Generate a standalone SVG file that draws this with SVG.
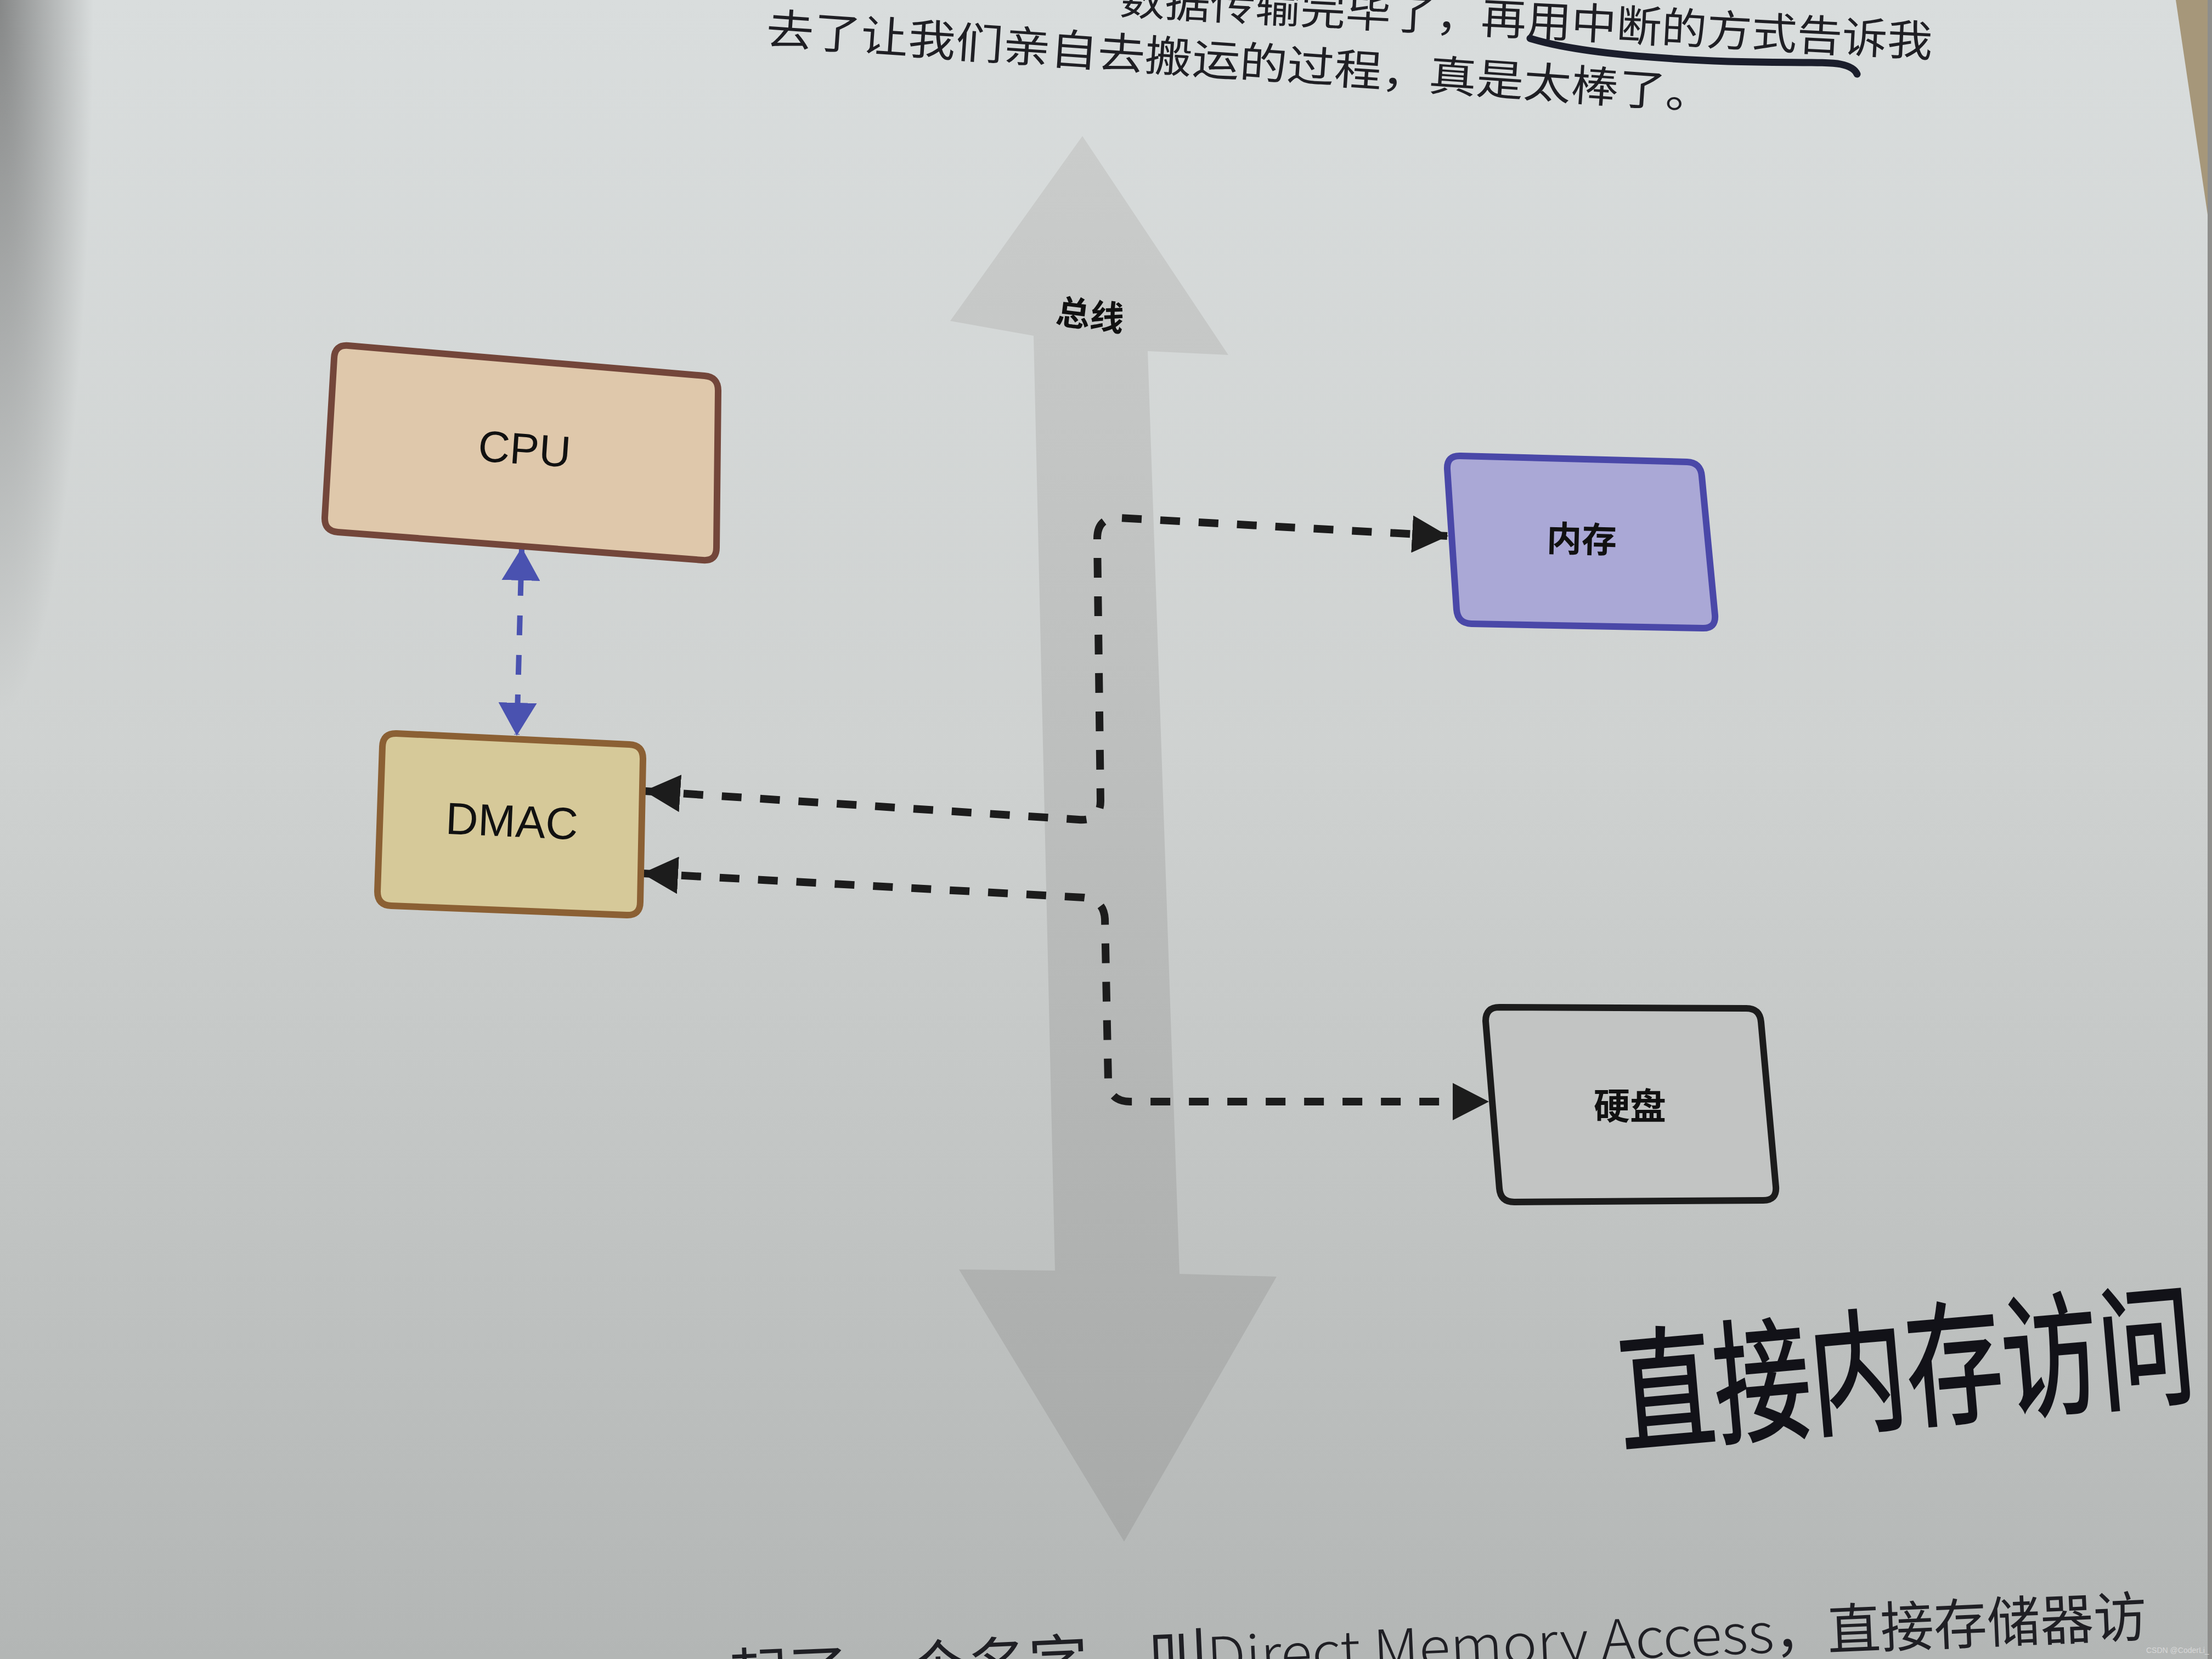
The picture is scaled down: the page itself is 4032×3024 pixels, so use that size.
<svg xmlns="http://www.w3.org/2000/svg" width="4032" height="3024" viewBox="0 0 4032 3024">
  <defs>
    <style>
      .print { font-family: "Noto Sans CJK SC", "Noto Sans", sans-serif; fill: #1f1f24; }
      .label { font-family: "Noto Sans CJK SC", sans-serif; font-weight: 700; fill: #111; text-anchor: middle; }
      .latin { font-family: "Liberation Sans", Arial, sans-serif; fill: #111; text-anchor: middle; }
      .dash { fill: none; stroke: #1c1c1c; stroke-width: 14; stroke-dasharray: 36 34; stroke-linejoin: round; }
      .dashblue { fill: none; stroke: #4a52b0; stroke-width: 10; stroke-dasharray: 36 36; stroke-dashoffset: 22; }
      .box { stroke-width: 12; stroke-linejoin: round; }
    </style>
    <linearGradient id="bg" x1="0" y1="0" x2="0" y2="1">
      <stop offset="0" stop-color="#d9dddd"/>
      <stop offset="0.45" stop-color="#cfd2d1"/>
      <stop offset="1" stop-color="#b3b6b5"/>
    </linearGradient>
    <radialGradient id="corner" cx="0" cy="0" r="1" gradientUnits="userSpaceOnUse" gradientTransform="translate(0 0) scale(170 1300)">
      <stop offset="0" stop-color="#505050" stop-opacity="0.6"/>
      <stop offset="1" stop-color="#505050" stop-opacity="0"/>
    </radialGradient>
    <linearGradient id="busfill" x1="0" y1="0" x2="0" y2="1">
      <stop offset="0" stop-color="#cacccb"/>
      <stop offset="0.5" stop-color="#bbbdbc"/>
      <stop offset="1" stop-color="#a8aaa9"/>
    </linearGradient>
    <marker id="ahBlack" markerUnits="userSpaceOnUse" viewBox="0 0 66 68" markerWidth="66" markerHeight="68" refX="64" refY="34" orient="auto-start-reverse">
      <path d="M0 0 L66 34 L0 68 Z" fill="#1c1c1c"/>
    </marker>
    <marker id="ahBlue" markerUnits="userSpaceOnUse" viewBox="0 0 60 70" markerWidth="60" markerHeight="70" refX="58" refY="35" orient="auto-start-reverse">
      <path d="M0 0 L60 35 L0 70 Z" fill="#4a52b0"/>
    </marker>
  </defs>

  <g id="page">
    <rect x="0" y="0" width="4032" height="3024" fill="url(#bg)"/>
    <rect x="0" y="0" width="4032" height="3024" fill="url(#corner)"/>
    <polygon points="3966,0 4032,0 4032,445" fill="#a6977a"/>
    <rect x="4024" y="0" width="8" height="3024" fill="#8e8e8c"/>
  </g>

  <g id="page-text">
    <text class="print" x="2040" y="26" font-size="78" textLength="1483" lengthAdjust="spacingAndGlyphs" transform="rotate(3 2040 26)">数据传输完毕了，再用中断的方式告诉我</text>
    <path d="M 2789 70 C 2860 92, 2990 106, 3150 112 C 3260 115, 3330 112, 3355 117 C 3375 121, 3382 128, 3385 135" fill="none" stroke="#1b1e2c" stroke-width="13" stroke-linecap="round"/>
    <text class="print" x="1395" y="80" font-size="78" textLength="1730" lengthAdjust="spacingAndGlyphs" transform="rotate(4 1395 80)">去了让我们亲自去搬运的过程，真是太棒了。</text>
    <g transform="translate(1330 3095) rotate(-2.5)">
      <text class="print" x="0" y="0" font-size="108" textLength="875" lengthAdjust="spacingAndGlyphs">起了一个名字，叫</text>
      <text class="print" x="872" y="0" font-size="100" font-weight="300" textLength="1035" lengthAdjust="spacingAndGlyphs">Direct Memory Access</text>
      <text class="print" x="1907" y="0" font-size="100" textLength="680" lengthAdjust="spacingAndGlyphs">，直接存储器访</text>
    </g>
    <g transform="translate(2957 2630) rotate(-5) scale(1 1.25)">
      <text x="0" y="0" font-family="'Noto Sans CJK SC', sans-serif" font-size="195" fill="#121218" stroke="#121218" stroke-width="3" textLength="1054" lengthAdjust="spacingAndGlyphs">直接内存访问</text>
    </g>
    <text x="3912" y="3013" font-family="'Liberation Sans', Arial, sans-serif" font-size="14" fill="#d8d8d8">CSDN @CoderLi_</text>
  </g>

  <g id="bus">
    <polygon points="1973,248 2239,647 2092,640 2150,2322 2327,2327 2049,2810 1748,2314 1923,2316 1884,612 1732,585" fill="url(#busfill)"/>
    <text class="label" x="1987" y="597" font-size="62" transform="rotate(7 1987 577)">总线</text>
  </g>

  <g id="connectors">
    <path class="dashblue" d="M 951 1000 L 942 1339" marker-start="url(#ahBlue)" marker-end="url(#ahBlue)"/>
    <path class="dash" d="M 1176 1442 L 1966 1494 Q 2006 1497 2006 1460 L 2000 982 Q 2000 942 2040 944 L 2638 977" marker-start="url(#ahBlack)" marker-end="url(#ahBlack)"/>
    <path class="dash" d="M 1172 1592 L 1975 1636 Q 2012 1640 2014 1675 L 2020 1970 Q 2022 2008 2060 2008 L 2712 2008" marker-start="url(#ahBlack)" marker-end="url(#ahBlack)"/>
  </g>

  <g id="node-cpu">
    <path class="box" d="M 635 630 L 1284 685 Q 1309 687 1309 712 L 1306 998 Q 1306 1023 1281 1021 L 616 970 Q 591 968 592 943 L 609 653 Q 610 628 635 630 Z" fill="#dfc8ab" stroke="#73463a"/>
    <text class="latin" x="956" y="846" font-size="80" transform="rotate(4 956 820)">CPU</text>
  </g>

  <g id="node-dmac">
    <path class="box" d="M 723 1337 L 1147 1357 Q 1172 1358 1172 1383 L 1167 1644 Q 1167 1669 1142 1668 L 713 1651 Q 688 1650 688 1625 L 697 1361 Q 698 1336 723 1337 Z" fill="#d6c999" stroke="#8b6034"/>
    <text class="latin" x="933" y="1525" font-size="82" transform="rotate(2.5 933 1496)">DMAC</text>
  </g>

  <g id="node-memory">
    <path class="box" d="M 2662 831 L 3075 842 Q 3100 843 3102 868 L 3126 1121 Q 3128 1146 3103 1145 L 2682 1137 Q 2657 1136 2655 1111 L 2638 855 Q 2637 830 2662 831 Z" fill="#aaa8d6" stroke="#4a48a8"/>
    <text class="label" x="2883" y="1006" font-size="64" transform="rotate(1.5 2883 983)">内存</text>
  </g>

  <g id="node-disk">
    <path class="box" d="M 2733 1836 L 3183 1838 Q 3208 1838 3210 1863 L 3237 2163 Q 3239 2188 3214 2188 L 2760 2191 Q 2735 2191 2733 2166 L 2708 1861 Q 2708 1836 2733 1836 Z" fill="#c2c4c3" stroke="#1c1c1c"/>
    <text class="label" x="2971" y="2040" font-size="66">硬盘</text>
  </g>
</svg>
